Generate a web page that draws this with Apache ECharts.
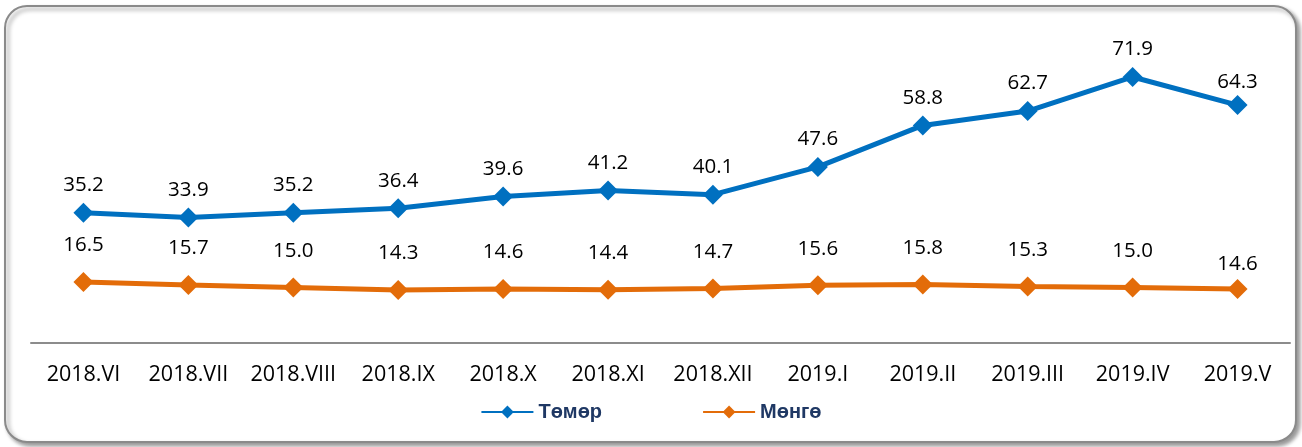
<!DOCTYPE html>
<html>
<head>
<meta charset="utf-8">
<script src="https://cdn.jsdelivr.net/npm/echarts@6/dist/echarts.min.js"></script>
<style>
  html, body { margin: 0; padding: 0; background: #fff; }
  #chart { width: 1302px; height: 447px; }
</style>
</head>
<body>
<div id="chart"></div>
<script>
const categories = ['2018.VI', '2018.VII', '2018.VIII', '2018.IX', '2018.X', '2018.XI', '2018.XII',
  '2019.I', '2019.II', '2019.III', '2019.IV', '2019.V'];
const iron = [35.2, 33.9, 35.2, 36.4, 39.6, 41.2, 40.1, 47.6, 58.8, 62.7, 71.9, 64.3];
const silver = [16.5, 15.7, 15.0, 14.3, 14.6, 14.4, 14.7, 15.6, 15.8, 15.3, 15.0, 14.6];
const seriesNames = ['Төмөр', 'Мөнгө'];

const chart = echarts.init(document.getElementById('chart'));

const labelStyle = (dist) => ({
  show: true,
  position: 'top',
  distance: dist,
  color: '#000',
  fontSize: 20.5,
  fontFamily: 'Open Sans',
  formatter: (p) => p.value.toFixed(1),
});

// last point labels sit a bit closer to the marker in the original
const withLastLabel = (arr, dist) => arr.map((v, i) =>
  i === arr.length - 1 ? { value: v, label: { distance: dist } } : v);

const option = {
  animation: false,
  graphic: [
    {
      type: 'rect',
      shape: { x: 5, y: 6, width: 1291, height: 436, r: 22 },
      style: {
        fill: '#fff',
        stroke: '#8a8a8a',
        lineWidth: 2,
        shadowColor: 'rgba(0,0,0,0.4)',
        shadowBlur: 4,
        shadowOffsetX: 3,
        shadowOffsetY: 3,
      },
      z: -10,
    },
  ],
  grid: { left: 31, right: 12, top: 47, bottom: 104 },
  legend: {
    bottom: 20,
    left: 'center',
    itemGap: 100,
    itemWidth: 52,
    itemHeight: 16,
    textStyle: {
      color: '#1f3864',
      fontWeight: 'bold',
      fontSize: 20,
      fontFamily: 'Liberation Sans',
    },
    data: seriesNames,
  },
  xAxis: {
    type: 'category',
    data: categories,
    axisLine: { lineStyle: { color: '#8c8c8c', width: 2 } },
    axisTick: { show: false },
    axisLabel: {
      interval: 0,
      color: '#000',
      fontSize: 21.5,
      fontFamily: 'Open Sans',
      margin: 21,
    },
  },
  yAxis: {
    type: 'value',
    min: 0,
    max: 80,
    show: false,
  },
  series: [
    {
      name: seriesNames[0],
      type: 'line',
      data: withLastLabel(iron, 2),
      symbol: 'diamond',
      symbolSize: 20,
      color: '#0070c0',
      lineStyle: { width: 5 },
      label: labelStyle(7),
    },
    {
      name: seriesNames[1],
      type: 'line',
      data: withLastLabel(silver, 4),
      symbol: 'diamond',
      symbolSize: 20,
      color: '#e36c09',
      lineStyle: { width: 5 },
      label: labelStyle(16),
    },
  ],
};

chart.setOption(option);
</script>
</body>
</html>
